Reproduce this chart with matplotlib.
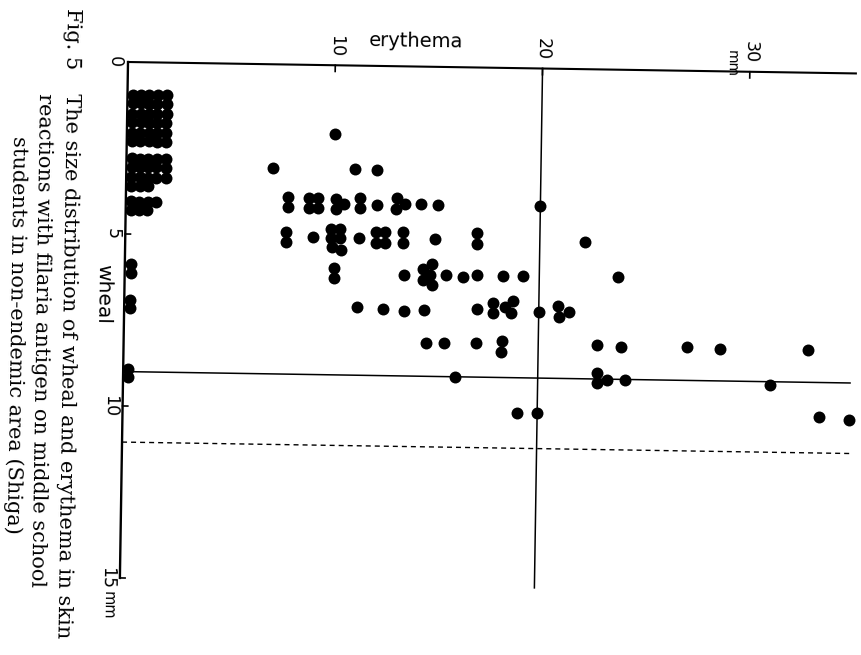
import matplotlib
matplotlib.use("Agg")
import matplotlib.pyplot as plt
from matplotlib.transforms import Affine2D

# scattered reactions (erythema mm, wheal mm), row by row
erythema = [
    10.04,
    7.07, 11.03, 12.09,
    7.82, 7.83, 8.83, 9.27, 8.84, 9.28, 10.14, 10.53, 10.14, 11.29, 11.30,
    12.12, 13.08, 13.47, 13.04, 14.24, 15.06, 19.98,
    7.75, 7.76, 9.06, 9.92, 10.35, 9.93, 10.36, 9.98, 10.42, 11.28, 12.09,
    12.53, 12.10, 12.53, 13.39, 13.40, 14.94, 16.96, 16.97, 22.18,
    10.09, 10.10, 13.47, 14.82, 14.39, 14.73, 14.40, 14.83, 15.50, 16.32,
    16.99, 18.25, 19.22, 23.80,
    11.23, 12.49, 13.50, 14.47, 17.02, 17.79, 17.80, 18.37, 18.75, 18.67,
    20.02, 20.93, 20.98, 21.46,
    14.59, 15.46, 17.00, 18.25, 18.21, 22.84, 24.00, 27.18, 28.77, 33.02,
    16.01, 22.86, 23.35, 22.87, 24.20, 31.21,
    19.03, 20.00, 33.60, 35.05,
    0.30, 0.30, 0.28, 0.29, 0.23, 0.24,
]
wheal = [
    2.00,
    3.02, 3.01, 3.03,
    3.85, 4.14, 3.87, 3.87, 4.16, 4.16, 3.89, 4.03, 4.18, 3.85, 4.14,
    4.04, 3.83, 4.00, 4.15, 3.99, 4.02, 4.00,
    4.87, 5.16, 5.00, 4.76, 4.76, 5.02, 5.02, 5.28, 5.37, 5.01, 4.83,
    4.82, 5.15, 5.14, 4.82, 5.14, 5.00, 4.81, 5.13, 5.02,
    5.89, 6.18, 6.07, 5.73, 5.88, 6.05, 6.20, 6.34, 6.05, 6.10,
    6.03, 6.05, 6.04, 6.03,
    7.02, 7.06, 7.11, 7.07, 7.02, 6.84, 7.13, 6.95, 6.77, 7.12,
    7.08, 6.90, 7.22, 7.07,
    8.03, 8.02, 8.01, 7.94, 8.26, 8.01, 8.06, 8.03, 8.07, 8.06,
    9.01, 8.83, 9.03, 9.12, 9.02, 9.10,
    10.03, 10.02, 10.00, 10.08,
    5.87, 6.13, 6.92, 7.15, 8.92, 9.16,
]

# the packed block of small reactions next to the wheal axis
block_erythema = [0.25, 0.65, 1.05, 1.45, 1.90]
block_wheal = [0.95, 1.20, 1.50, 1.75, 2.05, 2.30, 2.80, 3.05, 3.35, 3.60, 4.05, 4.30]
block_count = [5, 5, 5, 5, 5, 5, 5, 5, 5, 3, 4, 3]

erythema_ticks = [10, 20, 30]
wheal_ticks = [0, 5, 10, 15]
erythema_cut = 20
wheal_cut = 9
wheal_dashed = 11.05

caption_1 = "The size distribution of wheal and erythema in skin"
caption_2 = "reactions with filaria antigen on middle school"
caption_3 = "students in non-endemic area (Shiga)"

W, H = 861, 655
fig = plt.figure(figsize=(W / 100, H / 100), dpi=100)
ax = fig.add_axes([0, 0, 1, 1])
ax.set_axis_off()

# scale of the scan in pixels per mm and the corner of the axes
px_e, px_w = 20.73, 34.4
x0, y0 = 128, 62
skew = -0.9  # the page sits slightly tilted on the scanner

tr = ax.transData + Affine2D().rotate_deg_around(x0, H - y0, skew)
rot = -90 + skew

# stacked block
bx, by = [], []
for w, n in zip(block_wheal, block_count):
    for e in block_erythema[:n]:
        bx.append(e)
        by.append(w)

ax.scatter(bx, by, s=74, c="black", linewidths=0, transform=tr, zorder=3)
ax.scatter(erythema, wheal, s=74, c="black", linewidths=0, transform=tr, zorder=3)

# axes drawn as on the original page
e_end = (W - 4 - x0) / px_e
ax.plot([0, e_end], [0, 0], color="black", lw=1.5, transform=tr, solid_capstyle="butt")
ax.plot([0, 0], [0, wheal_ticks[-1]], color="black", lw=1.7, transform=tr)
for e in erythema_ticks:
    ax.plot([e, e], [0, 0.18], color="black", lw=1.2, transform=tr)
for w in wheal_ticks[1:]:
    ax.plot([0, 0.25], [w, w], color="black", lw=1.2, transform=tr)

# cut-off lines
ax.plot([erythema_cut, erythema_cut], [0, 15.1], color="black", lw=1.1, transform=tr)
ax.plot([0, 35.07], [wheal_cut, wheal_cut], color="black", lw=1.1, transform=tr)
ax.plot([0, 35.1], [wheal_dashed, wheal_dashed], color="black", lw=1.0,
        ls=(0, (3.6, 2.9)), transform=tr)

# axis labels and tick labels
lab = dict(family="DejaVu Sans", color="black", transform=tr,
           ha="center", va="center", rotation_mode="anchor")
for e in erythema_ticks:
    ax.text(e, -0.56, str(e), size=12.5, rotation=rot, **lab)
ax.text(29.1, -0.22, "mm", size=10, rotation=rot, **lab)
for w in wheal_ticks:
    ax.text(-0.62, w, str(w), size=12.5, rotation=rot, **lab)
ax.text(-0.57, 15.79, "mm", size=10.5, rotation=rot, **lab)
ax.text(13.88, -0.74, "erythema", size=14, rotation=skew, **lab)
ax.text(-1.03, 6.76, "wheal", size=14.5, rotation=rot, **lab)

ax.set_xlim(-x0 / px_e, (W - x0) / px_e)
ax.set_ylim((H - y0) / px_w, -y0 / px_w)

# caption, printed sideways like the chart
cap = dict(family="DejaVu Serif", size=15, color="black", rotation=rot,
           rotation_mode="anchor", va="baseline")
fig.text(67 / W, 1 - 8 / H, "Fig. 5", ha="left", **cap)
fig.text(66 / W, 1 - 93 / H, caption_1, ha="left", **cap)
fig.text(39 / W, 1 - 93 / H, caption_2, ha="left", **cap)
fig.text(10 / W, 1 - 335 / H, caption_3, ha="center", **cap)

fig.savefig("out.png", dpi=100, facecolor="white")
